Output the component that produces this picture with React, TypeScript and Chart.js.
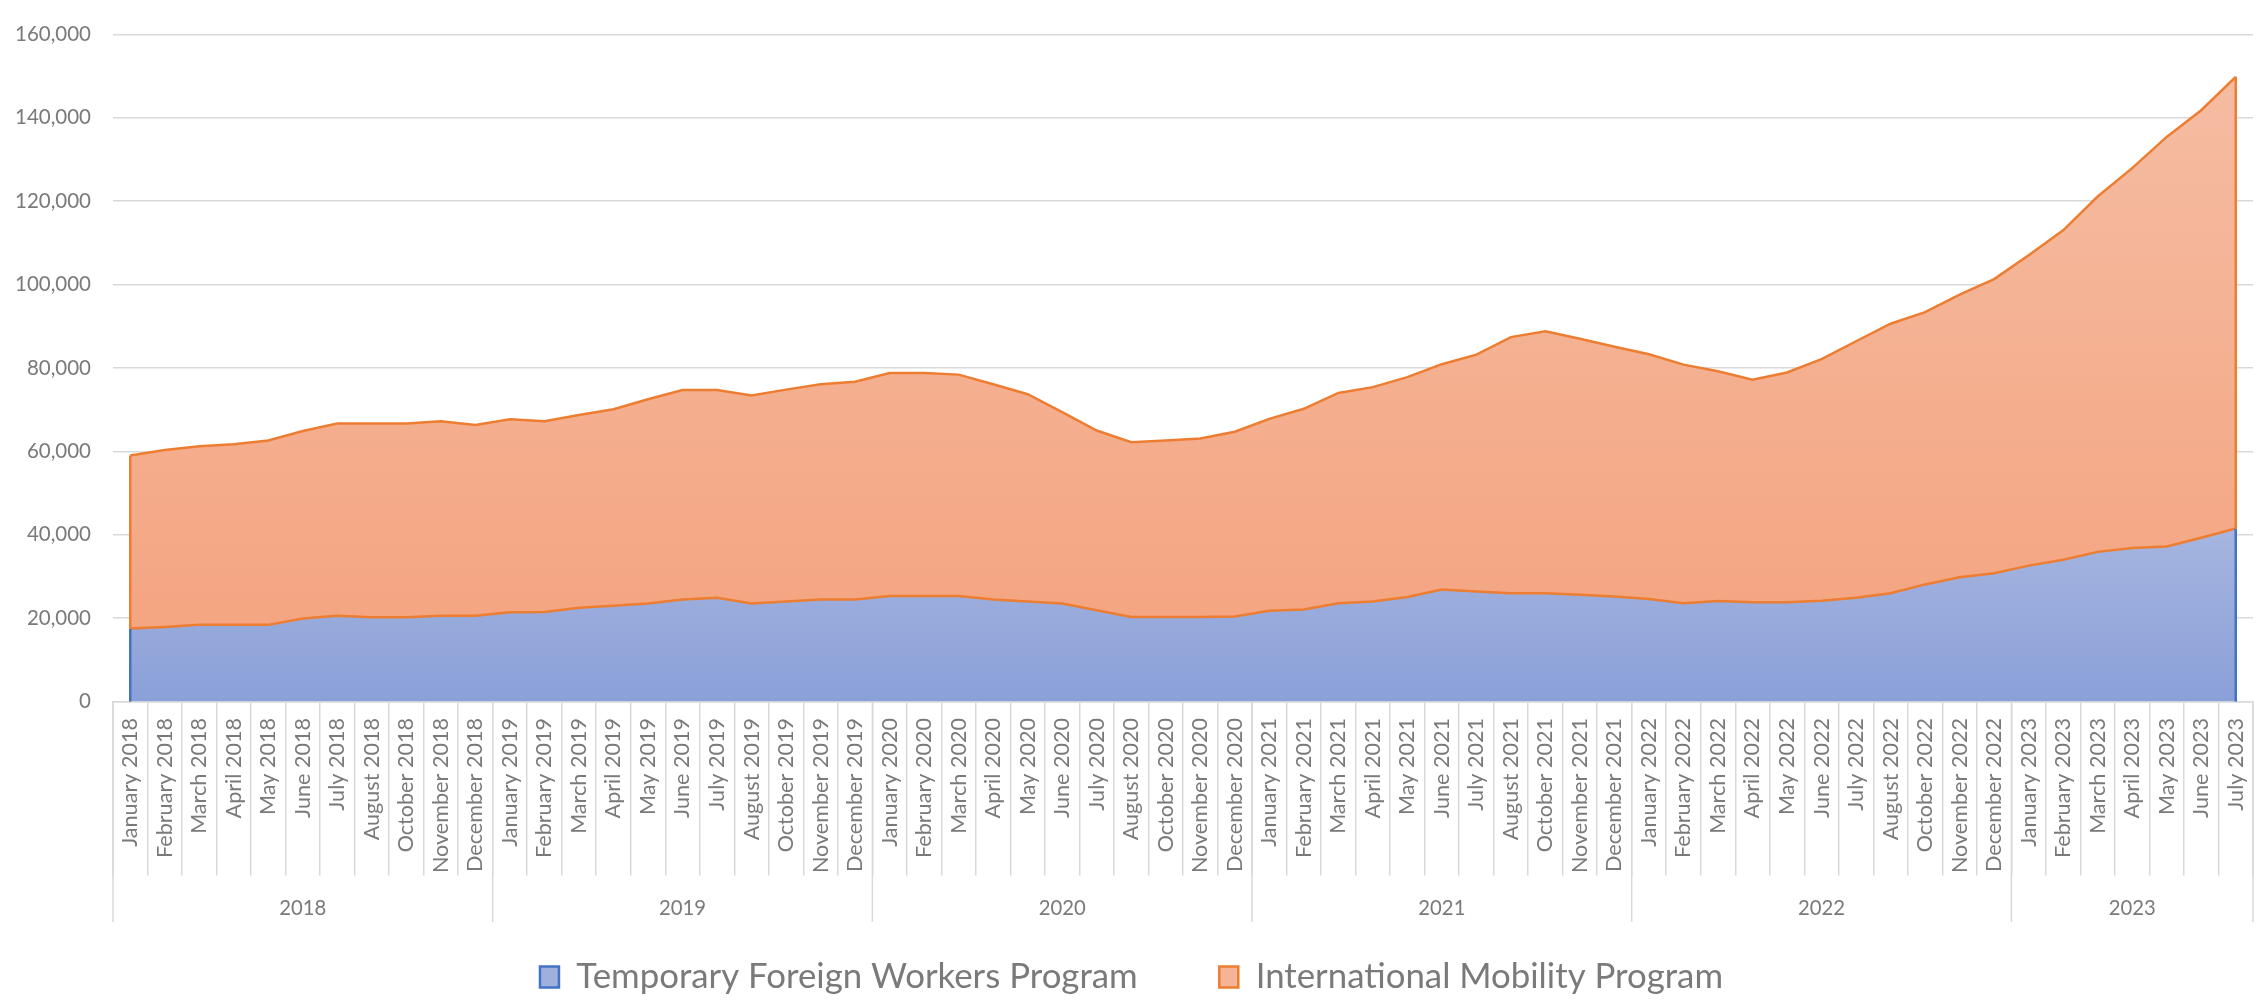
import React, { useEffect, useRef } from 'react';
import { Chart, registerables } from 'chart.js';

Chart.register(...registerables);

// ---------- DATA ----------
const categories = [
  'January 2018', 'February 2018', 'March 2018', 'April 2018', 'May 2018', 'June 2018', 'July 2018', 'August 2018', 'October 2018', 'November 2018', 'December 2018',
  'January 2019', 'February 2019', 'March 2019', 'April 2019', 'May 2019', 'June 2019', 'July 2019', 'August 2019', 'October 2019', 'November 2019', 'December 2019',
  'January 2020', 'February 2020', 'March 2020', 'April 2020', 'May 2020', 'June 2020', 'July 2020', 'August 2020', 'October 2020', 'November 2020', 'December 2020',
  'January 2021', 'February 2021', 'March 2021', 'April 2021', 'May 2021', 'June 2021', 'July 2021', 'August 2021', 'October 2021', 'November 2021', 'December 2021',
  'January 2022', 'February 2022', 'March 2022', 'April 2022', 'May 2022', 'June 2022', 'July 2022', 'August 2022', 'October 2022', 'November 2022', 'December 2022',
  'January 2023', 'February 2023', 'March 2023', 'April 2023', 'May 2023', 'June 2023', 'July 2023',
];

const yearLabels = ['2018', '2019', '2020', '2021', '2022', '2023'];
const monthsPerYear = [11, 11, 11, 11, 11, 7];

const tfwpValues = [
  17500, 17900, 18400, 18400, 18400, 19900, 20600, 20200, 20200, 20600, 20600,
  21400, 21500, 22500, 23000, 23500, 24500, 24900, 23500, 24000, 24500, 24500,
  25300, 25300, 25300, 24500, 24000, 23500, 21900, 20300, 20300, 20300, 20400,
  21800, 22100, 23600, 24000, 25100, 26900, 26400, 26000, 26000, 25600, 25200,
  24600, 23600, 24100, 23800, 23800, 24200, 24900, 26000, 28100, 29800, 30800,
  32600, 34000, 35900, 36800, 37200, 39300, 41500,
];

const impValues = [
  41500, 42400, 42800, 43300, 44200, 45000, 46100, 46500, 46500, 46600, 45700,
  46300, 45700, 46200, 47100, 49000, 50200, 49800, 49900, 50800, 51600, 52200,
  53500, 53500, 53100, 51600, 49700, 45900, 43100, 41900, 42300, 42800, 44300,
  46000, 48100, 50400, 51400, 52700, 54000, 56800, 61400, 62800, 61400, 59900,
  58700, 57200, 55100, 53400, 55100, 57900, 61500, 64600, 65300, 67800, 70500,
  74400, 79000, 85200, 91100, 98200, 102500, 108300,
];

const seriesNames = ['Temporary Foreign Workers Program', 'International Mobility Program'];
const yMax = 160000;
const yStep = 20000;

// ---------- STYLE ----------
const FONT = 'Lato, "Open Sans", sans-serif';
const TEXT = '#7A7A7A';
const GRID = '#D9D9D9';
const ORANGE = '#ED7D31';
const BLUE = '#4472C4';

const W = 2267;
const H = 1001;
const AREA_LEFT = 113;
const AREA_RIGHT = 2253;
const AREA_TOP = 15.6;
const AREA_BOTTOM = 701.6;
const MONTH_ROW_BOTTOM = 875.6;
const X_BOX_BOTTOM = 878;
const YEAR_ROW_BOTTOM = 922;
const YEAR_TEXT_Y = 908;
const LEGEND_CENTER_Y = 977;
const LEFT_PAD = 10;

const sum = (a: number[], n: number) => a.slice(0, n).reduce((s, v) => s + v, 0);

const yearRowPlugin = {
  id: 'yearRow',
  afterDraw(chart: any) {
    const x = chart.scales.x;
    const ctx = chart.ctx;
    const n = categories.length;
    const half = (x.getPixelForValue(1) - x.getPixelForValue(0)) / 2;
    const boundary = (i: number) => (i < n ? x.getPixelForValue(i) - half : x.getPixelForValue(n - 1) + half);
    ctx.save();
    ctx.strokeStyle = GRID;
    ctx.lineWidth = 1.5;
    for (let g = 0; g <= monthsPerYear.length; g++) {
      const px = boundary(sum(monthsPerYear, g));
      ctx.beginPath();
      ctx.moveTo(px, x.top);
      ctx.lineTo(px, YEAR_ROW_BOTTOM);
      ctx.stroke();
    }
    ctx.fillStyle = TEXT;
    ctx.font = `${chart.$yearSize}px ${FONT}`;
    ctx.textAlign = 'center';
    ctx.textBaseline = 'middle';
    yearLabels.forEach((label, g) => {
      const start = sum(monthsPerYear, g);
      const end = start + monthsPerYear[g];
      const cx = (boundary(start) + boundary(end)) / 2;
      ctx.fillText(label, cx, YEAR_TEXT_Y);
    });
    ctx.restore();
  },
};

const edgePlugin = {
  id: 'areaEdges',
  afterDatasetsDraw(chart: any) {
    const { x, y } = chart.scales;
    const ctx = chart.ctx;
    ctx.save();
    ctx.lineWidth = 2.5;
    [0, categories.length - 1].forEach((i) => {
      const px = x.getPixelForValue(i);
      const b = tfwpValues[i];
      const t = tfwpValues[i] + impValues[i];
      ctx.strokeStyle = BLUE;
      ctx.beginPath();
      ctx.moveTo(px, y.getPixelForValue(0));
      ctx.lineTo(px, y.getPixelForValue(b));
      ctx.stroke();
      ctx.strokeStyle = ORANGE;
      ctx.beginPath();
      ctx.moveTo(px, y.getPixelForValue(b));
      ctx.lineTo(px, y.getPixelForValue(t));
      ctx.stroke();
    });
    ctx.restore();
  },
};

const blueFill = (c: any) => {
  const chart = c.chart;
  if (!chart.chartArea) return '#96A9DB';
  const y = chart.scales.y;
  const g = chart.ctx.createLinearGradient(0, y.getPixelForValue(Math.max(...tfwpValues)), 0, y.getPixelForValue(0));
  g.addColorStop(0, '#A6B5E0');
  g.addColorStop(1, '#8AA0D8');
  return g;
};

const orangeFill = (c: any) => {
  const chart = c.chart;
  if (!chart.chartArea) return '#F4AC8C';
  const y = chart.scales.y;
  const top = Math.max(...tfwpValues.map((v, i) => v + impValues[i]));
  const g = chart.ctx.createLinearGradient(0, y.getPixelForValue(top), 0, y.getPixelForValue(0));
  g.addColorStop(0, '#F5BCA2');
  g.addColorStop(1, '#F4A27D');
  return g;
};

export default function App() {
  const ref = useRef<HTMLCanvasElement>(null);

  useEffect(() => {
    document.body.style.margin = '0';
    const canvas = ref.current;
    if (!canvas) return;

    const m = document.createElement('canvas').getContext('2d')!;
    const fit = (text: string, target: number) => {
      m.font = `100px ${FONT}`;
      return Math.round((1000 * target) / m.measureText(text).width) / 10;
    };
    const monthSize = fit('December 2018', 154);
    const tickSize = fit('160,000', 76);
    const yearSize = fit('2018', 47);
    const legendSize = fit(seriesNames[0], 562);

    const boxW = 19;
    const boxH = 21;
    const itemH = Math.max(legendSize, boxH);
    const legendTop = X_BOX_BOTTOM;
    const legendPad = LEGEND_CENTER_Y - legendTop - itemH / 2;
    const legendHeight = itemH + legendPad + 10;
    const padBottom = H - (legendTop + legendHeight);
    const xHeight = legendTop - AREA_BOTTOM;

    const chart: any = new Chart(canvas, {
      type: 'line',
      data: {
        labels: categories,
        datasets: [
          {
            label: seriesNames[0],
            data: tfwpValues,
            fill: 'origin',
            backgroundColor: blueFill,
            borderColor: ORANGE,
            borderWidth: 2.5,
            pointRadius: 0,
            tension: 0,
          },
          {
            label: seriesNames[1],
            data: impValues,
            fill: '-1',
            backgroundColor: orangeFill,
            borderColor: ORANGE,
            borderWidth: 2.5,
            pointRadius: 0,
            tension: 0,
          },
        ],
      },
      options: {
        responsive: false,
        animation: false,
        devicePixelRatio: 1,
        layout: { padding: { top: AREA_TOP, right: W - AREA_RIGHT, left: LEFT_PAD, bottom: padBottom } },
        plugins: {
          tooltip: { enabled: false },
          title: { display: false },
          legend: {
            position: 'bottom',
            align: 'center',
            labels: {
              color: TEXT,
              font: { family: FONT, size: legendSize },
              boxWidth: boxW,
              boxHeight: boxH,
              padding: legendPad,
              generateLabels: () => [
                { text: seriesNames[0], fillStyle: '#9FB0DC', strokeStyle: BLUE, lineWidth: 2.5, hidden: false, datasetIndex: 0, fontColor: TEXT },
                { text: seriesNames[1], fillStyle: '#F5B497', strokeStyle: ORANGE, lineWidth: 2.5, hidden: false, datasetIndex: 1, fontColor: TEXT },
              ],
            },
          },
        },
        scales: {
          x: {
            type: 'category',
            offset: true,
            grid: {
              offset: true,
              drawOnChartArea: false,
              drawTicks: true,
              tickLength: MONTH_ROW_BOTTOM - AREA_BOTTOM,
              color: GRID,
              lineWidth: 1.5,
            },
            border: { display: true, color: GRID, width: 1.5 },
            ticks: {
              autoSkip: false,
              minRotation: 90,
              maxRotation: 90,
              padding: 16.4 - (MONTH_ROW_BOTTOM - AREA_BOTTOM),
              color: TEXT,
              font: { family: FONT, size: monthSize },
            },
            afterFit: (s: any) => {
              s.height = xHeight;
            },
          },
          y: {
            stacked: true,
            min: 0,
            max: yMax,
            ticks: {
              stepSize: yStep,
              padding: 22,
              color: TEXT,
              font: { family: FONT, size: tickSize },
              callback: (v: any) => Number(v).toLocaleString('en-US'),
            },
            grid: { color: GRID, lineWidth: 1.5, drawTicks: false },
            border: { display: false },
            afterFit: (s: any) => {
              s.width = AREA_LEFT - LEFT_PAD;
            },
          },
        },
      } as any,
      plugins: [edgePlugin, yearRowPlugin],
    });
    chart.$yearSize = yearSize;
    chart.draw();

    return () => chart.destroy();
  }, []);

  return <canvas ref={ref} width={W} height={H} style={{ display: 'block' }} />;
}
